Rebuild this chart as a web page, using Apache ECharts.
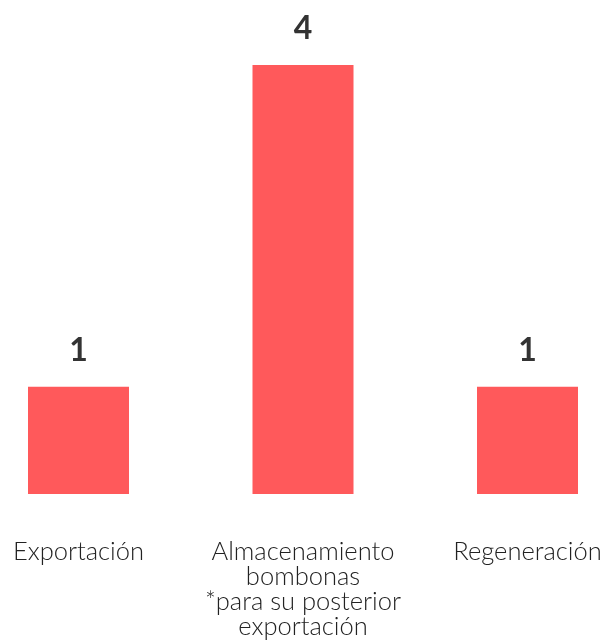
<!DOCTYPE html>
<html>
<head>
<meta charset="utf-8">
<script src="https://cdn.jsdelivr.net/npm/echarts@6/dist/echarts.min.js"></script>
<style>
  html, body { margin: 0; padding: 0; background: #fff; }
  #chart { width: 608px; height: 643px; }
</style>
</head>
<body>
<div id="chart"></div>
<script>
// datos del gráfico
const categories = [
  'Exportación',
  'Almacenamiento\nbombonas\n*para su posterior\nexportación',
  'Regeneración'
];
const values = [1, 4, 1];

const chart = echarts.init(document.getElementById('chart'));
const option = {
  animation: false,
  grid: {
    left: 78.5,
    right: 80.5,
    top: 65,
    bottom: 149,
    containLabel: false
  },
  xAxis: {
    type: 'category',
    data: categories,
    boundaryGap: false,
    axisLine: { show: false },
    axisTick: { show: false },
    axisLabel: {
      interval: 0,
      margin: 45,
      color: '#222',
      fontFamily: 'Lato',
      fontWeight: 300,
      fontSize: 25.5,
      lineHeight: 25,
      align: 'center'
    }
  },
  yAxis: {
    type: 'value',
    min: 0,
    max: 4,
    show: false,
    splitLine: { show: false }
  },
  series: [{
    type: 'bar',
    data: values,
    barWidth: 101,
    clip: false,
    itemStyle: { color: '#ff595b' },
    label: {
      show: true,
      position: 'top',
      distance: 20,
      color: '#333',
      fontFamily: 'Lato',
      fontWeight: 'bold',
      fontSize: 32,
      lineHeight: 32
    }
  }]
};
chart.setOption(option);
</script>
</body>
</html>
